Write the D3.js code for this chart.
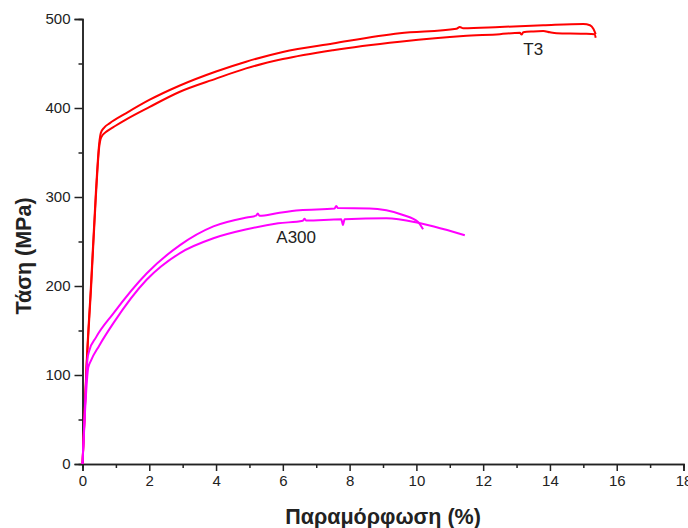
<!DOCTYPE html>
<html>
<head>
<meta charset="utf-8">
<script src="https://d3js.org/d3.v7.min.js"></script>
<style>
  body { margin: 0; background: #fff; }
  svg { display: block; font-family: "Liberation Sans", Arial, sans-serif; }
</style>
</head>
<body>
<div id="chart"></div>
<script>
//////////////////////////////////////////////
// Data //////////////////////////////////////
//////////////////////////////////////////////
// [strain %, stress MPa]

var t3Upper = [
  [0,0],[0.05,45],[0.12,110],[0.26,205],[0.4,305],[0.5,360],[0.55,372],[0.65,378],
  [0.82,383],[1.3,394],[2,409],[2.9,425],[4,441],[4.9,452],[6,463],[7.5,472.5],
  [9.5,484],[11.2,489],[11.3,491],[11.4,489.5],[12.5,491],[13.8,493],[15,494.5],
  [15.2,493],[15.3,489],[15.37,483]
];
var t3Lower = [
  [0,0],[0.05,42],[0.12,106],[0.26,200],[0.4,300],[0.5,356],[0.56,367],[0.7,373],
  [0.9,378],[1.3,387],[2,401],[2.9,418],[4,433],[4.9,444.5],[6,455],[7.5,465],
  [9.5,474.5],[11.4,481],[12.5,483],[13.1,484.5],[13.15,482.5],[13.2,485],[13.5,486],
  [13.8,486.5],[14.0,485],[14.2,484],[15,483.5],[15.34,483],[15.37,479]
];
var a300Upper = [
  [0,0],[0.08,70],[0.15,118],[0.2,127],[0.4,142],[0.92,169],[1.92,214],[2.92,246],
  [3.92,267],[4.92,277],[5.2,279],[5.25,281.5],[5.3,279],[5.86,282],[6.5,285],
  [7.55,287],[7.6,290],[7.65,287.5],[8.6,287.2],[9.1,285],[9.6,279.8],[10.05,272],
  [10.2,263.7]
];
var a300Lower = [
  [0,0],[0.08,62],[0.17,108],[0.25,116],[0.5,133],[0.92,158],[1.92,207],[2.92,237],
  [3.92,253.6],[4.92,263.7],[5.86,270.4],[6.6,273.4],[6.65,275.5],[6.7,273.5],
  [7.75,275],[7.8,268.5],[7.85,275],[9.1,276],[10.05,271],[10.8,264],[11.45,257]
];

var curves = [
  {name: "T3", values: t3Upper, color: "#ff0000"},
  {name: "T3", values: t3Lower, color: "#ff0000"},
  {name: "A300", values: a300Upper, color: "#ff00ff"},
  {name: "A300", values: a300Lower, color: "#ff00ff"}
];

var labels = [
  {text: "T3", x: 13.5, y: 459},
  {text: "A300", x: 6.4, y: 248}
];

var xTicks = [0, 2, 4, 6, 8, 10, 12, 14, 16, 18];
var yTicks = [0, 100, 200, 300, 400, 500];

//////////////////////////////////////////////
// Chart Config /////////////////////////////
//////////////////////////////////////////////

var width = 688, height = 528;
var margin = {top: 19, right: 4.5, bottom: 64, left: 82.5};

var xScale = d3.scaleLinear().domain([0, 18]).range([margin.left, width - margin.right]);
var yScale = d3.scaleLinear().domain([0, 500]).range([height - margin.bottom, margin.top]);

var svg = d3.select("#chart").append("svg")
    .attr("width", width)
    .attr("height", height);

//////////////////////////////////////////////
// Axes //////////////////////////////////////
//////////////////////////////////////////////

// minor ticks first, then majors with labels
var xMinor = d3.axisBottom(xScale).tickValues(d3.range(1, 18, 2)).tickSize(4).tickFormat("");
var xAxis = d3.axisBottom(xScale).tickValues(xTicks).tickSize(7).tickPadding(4).tickFormat(d3.format("d"));
var yMinor = d3.axisLeft(yScale).tickValues(d3.range(50, 500, 100)).tickSize(4).tickFormat("");
var yAxis = d3.axisLeft(yScale).tickValues(yTicks).tickSize(8).tickPadding(4).tickFormat(d3.format("d"));

function styleAxis(g) {
  g.select(".domain").attr("stroke", "#222").attr("stroke-width", 1.5);
  g.selectAll(".tick line").attr("stroke", "#222").attr("stroke-width", 1.5);
  g.selectAll(".tick text").attr("fill", "#222").style("font-size", "15px")
    .style("font-family", "'Liberation Sans', Arial, sans-serif");
}

var xG = svg.append("g").attr("transform", "translate(0," + yScale(0) + ")");
xG.append("g").call(xMinor).call(styleAxis);
xG.append("g").call(xAxis).call(styleAxis);

var yG = svg.append("g").attr("transform", "translate(" + xScale(0) + ",0)");
yG.append("g").call(yMinor).call(styleAxis);
yG.append("g").call(yAxis).call(styleAxis);

// axis titles
svg.append("text")
    .attr("x", 383).attr("y", 524)
    .attr("text-anchor", "middle")
    .style("font-size", "21.5px").style("font-weight", "bold")
    .attr("fill", "#222")
    .text("Παραμόρφωση (%)");

svg.append("text")
    .attr("transform", "translate(31,256) rotate(-90)")
    .attr("text-anchor", "middle")
    .style("font-size", "21.5px").style("font-weight", "bold")
    .attr("fill", "#222")
    .text("Τάση (MPa)");

//////////////////////////////////////////////
// Drawing ///////////////////////////////////
//////////////////////////////////////////////

var line = d3.line()
    .x(function(d) { return xScale(d[0]); })
    .y(function(d) { return yScale(d[1]); })
    .curve(d3.curveMonotoneX);

svg.selectAll(".curve")
    .data(curves)
    .enter().append("path")
    .attr("class", "curve")
    .attr("d", function(d) { return line(d.values); })
    .style("fill", "none")
    .style("stroke", function(d) { return d.color; })
    .style("stroke-width", "2px");

svg.selectAll(".lbl")
    .data(labels)
    .enter().append("text")
    .attr("class", "lbl")
    .attr("x", function(d) { return xScale(d.x); })
    .attr("y", function(d) { return yScale(d.y); })
    .attr("text-anchor", "middle")
    .style("font-size", "17px")
    .attr("fill", "#222")
    .text(function(d) { return d.text; });
</script>
</body>
</html>
